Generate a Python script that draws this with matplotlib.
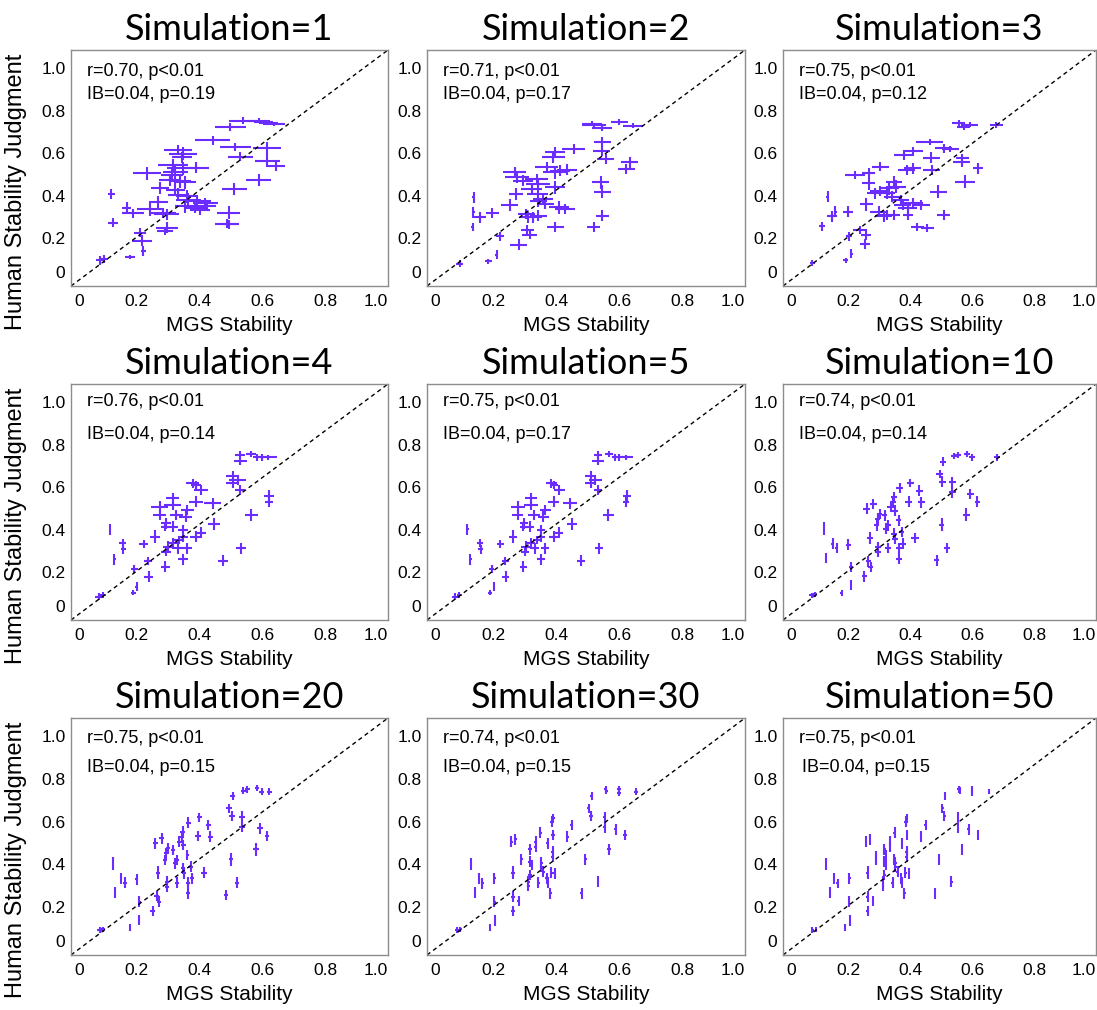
import matplotlib.pyplot as plt

plt.rcParams['font.family'] = ['Liberation Sans', 'DejaVu Sans']

sims = [1, 2, 3, 4, 5, 10, 20, 30, 50]
r_vals = ['0.70', '0.71', '0.75', '0.76', '0.75', '0.74', '0.75', '0.74', '0.75']
ib_vals = ['0.04', '0.04', '0.04', '0.04', '0.04', '0.04', '0.04', '0.04', '0.04']
ib_p = ['0.19', '0.17', '0.12', '0.14', '0.17', '0.14', '0.15', '0.15', '0.15']
ticks = [0, 0.2, 0.4, 0.6, 0.8, 1.0]
tick_labels = ['0', '0.2', '0.4', '0.6', '0.8', '1.0']

# rows: (MGS stability, human judgment, x error, y error)
P1 = [
    (0.082, 0.095, 0.012, 0.02), (0.095, 0.102, 0.012, 0.02), (0.178, 0.110, 0.015, 0.01),
    (0.220, 0.140, 0.008, 0.025), (0.215, 0.188, 0.032, 0.025), (0.210, 0.226, 0.020, 0.02),
    (0.124, 0.273, 0.015, 0.02), (0.119, 0.408, 0.012, 0.025), (0.167, 0.343, 0.015, 0.025),
    (0.188, 0.316, 0.035, 0.02), (0.242, 0.335, 0.042, 0.03), (0.268, 0.369, 0.030, 0.03),
    (0.284, 0.319, 0.042, 0.025), (0.295, 0.250, 0.035, 0.025), (0.290, 0.234, 0.025, 0.02),
    (0.231, 0.505, 0.045, 0.03), (0.274, 0.436, 0.028, 0.03), (0.322, 0.428, 0.030, 0.03),
    (0.332, 0.405, 0.032, 0.03), (0.359, 0.397, 0.035, 0.03), (0.364, 0.381, 0.040, 0.03),
    (0.391, 0.374, 0.045, 0.03), (0.418, 0.366, 0.040, 0.025), (0.354, 0.350, 0.032, 0.03),
    (0.386, 0.343, 0.035, 0.025), (0.402, 0.332, 0.032, 0.025), (0.423, 0.353, 0.030, 0.025),
    (0.295, 0.312, 0.040, 0.025), (0.306, 0.474, 0.035, 0.03), (0.338, 0.467, 0.035, 0.03),
    (0.354, 0.462, 0.035, 0.03), (0.322, 0.509, 0.040, 0.03), (0.311, 0.498, 0.035, 0.03),
    (0.314, 0.544, 0.048, 0.03), (0.348, 0.529, 0.052, 0.03), (0.389, 0.532, 0.040, 0.025),
    (0.332, 0.614, 0.045, 0.025), (0.348, 0.598, 0.045, 0.03), (0.343, 0.580, 0.032, 0.025),
    (0.441, 0.660, 0.055, 0.02), (0.498, 0.722, 0.050, 0.02), (0.538, 0.753, 0.045, 0.015),
    (0.588, 0.753, 0.035, 0.01), (0.604, 0.746, 0.030, 0.01), (0.620, 0.741, 0.030, 0.01),
    (0.636, 0.738, 0.035, 0.01), (0.514, 0.629, 0.050, 0.02), (0.530, 0.583, 0.040, 0.02),
    (0.615, 0.622, 0.045, 0.03), (0.615, 0.564, 0.040, 0.03), (0.642, 0.540, 0.030, 0.025),
    (0.588, 0.474, 0.040, 0.03), (0.510, 0.431, 0.040, 0.03), (0.492, 0.319, 0.038, 0.03),
    (0.487, 0.268, 0.038, 0.02), (0.492, 0.265, 0.030, 0.02),
]

P2 = [
    (0.094, 0.080, 0.011, 0.015), (0.184, 0.092, 0.011, 0.012), (0.211, 0.123, 0.005, 0.02),
    (0.223, 0.208, 0.013, 0.02), (0.139, 0.392, 0.005, 0.025), (0.137, 0.322, 0.005, 0.025),
    (0.135, 0.252, 0.005, 0.02), (0.158, 0.298, 0.019, 0.025), (0.198, 0.319, 0.021, 0.025),
    (0.253, 0.356, 0.027, 0.03), (0.281, 0.169, 0.027, 0.025), (0.309, 0.239, 0.021, 0.025),
    (0.316, 0.216, 0.023, 0.02), (0.273, 0.408, 0.023, 0.03), (0.268, 0.509, 0.037, 0.025),
    (0.276, 0.486, 0.037, 0.025), (0.295, 0.470, 0.032, 0.025), (0.322, 0.431, 0.032, 0.03),
    (0.338, 0.478, 0.037, 0.025), (0.343, 0.455, 0.037, 0.025), (0.341, 0.408, 0.032, 0.03),
    (0.305, 0.314, 0.027, 0.025), (0.311, 0.298, 0.027, 0.025), (0.327, 0.298, 0.027, 0.025),
    (0.343, 0.306, 0.027, 0.025), (0.343, 0.377, 0.027, 0.03), (0.359, 0.384, 0.032, 0.025),
    (0.365, 0.361, 0.027, 0.025), (0.370, 0.533, 0.037, 0.025), (0.395, 0.509, 0.037, 0.03),
    (0.413, 0.517, 0.032, 0.025), (0.434, 0.522, 0.032, 0.025), (0.397, 0.439, 0.032, 0.03),
    (0.408, 0.345, 0.032, 0.03), (0.429, 0.338, 0.032, 0.025), (0.397, 0.252, 0.027, 0.025),
    (0.391, 0.580, 0.037, 0.025), (0.397, 0.603, 0.032, 0.025), (0.456, 0.619, 0.037, 0.025),
    (0.520, 0.252, 0.021, 0.025), (0.547, 0.306, 0.021, 0.025), (0.547, 0.419, 0.027, 0.03),
    (0.542, 0.463, 0.027, 0.03), (0.545, 0.611, 0.027, 0.025), (0.547, 0.653, 0.027, 0.025),
    (0.558, 0.572, 0.027, 0.025), (0.623, 0.525, 0.027, 0.025), (0.634, 0.556, 0.027, 0.025),
    (0.515, 0.739, 0.032, 0.01), (0.520, 0.731, 0.037, 0.01), (0.547, 0.720, 0.032, 0.015),
    (0.601, 0.747, 0.027, 0.015), (0.644, 0.728, 0.032, 0.012),
]

P3 = [
    (0.085, 0.083, 0.008, 0.015), (0.192, 0.095, 0.008, 0.012), (0.211, 0.127, 0.004, 0.02),
    (0.203, 0.208, 0.011, 0.02), (0.255, 0.172, 0.016, 0.025), (0.238, 0.239, 0.021, 0.02),
    (0.258, 0.216, 0.016, 0.025), (0.115, 0.255, 0.009, 0.02), (0.134, 0.395, 0.004, 0.025),
    (0.148, 0.302, 0.016, 0.025), (0.159, 0.325, 0.005, 0.025), (0.200, 0.325, 0.016, 0.025),
    (0.258, 0.359, 0.021, 0.03), (0.222, 0.497, 0.032, 0.02), (0.266, 0.508, 0.021, 0.02),
    (0.266, 0.458, 0.021, 0.03), (0.288, 0.411, 0.027, 0.025), (0.304, 0.536, 0.027, 0.02),
    (0.304, 0.422, 0.032, 0.025), (0.332, 0.434, 0.032, 0.03), (0.324, 0.411, 0.027, 0.025),
    (0.348, 0.466, 0.027, 0.025), (0.354, 0.442, 0.032, 0.03), (0.343, 0.395, 0.027, 0.025),
    (0.299, 0.325, 0.027, 0.025), (0.315, 0.302, 0.027, 0.025), (0.324, 0.309, 0.027, 0.025),
    (0.348, 0.309, 0.021, 0.025), (0.370, 0.380, 0.027, 0.025), (0.376, 0.356, 0.027, 0.025),
    (0.392, 0.341, 0.032, 0.025), (0.409, 0.364, 0.032, 0.025), (0.436, 0.356, 0.027, 0.025),
    (0.392, 0.309, 0.016, 0.025), (0.423, 0.252, 0.021, 0.02), (0.456, 0.247, 0.021, 0.02),
    (0.508, 0.309, 0.021, 0.025), (0.491, 0.419, 0.027, 0.03), (0.470, 0.520, 0.027, 0.025),
    (0.389, 0.520, 0.027, 0.025), (0.409, 0.528, 0.027, 0.025), (0.381, 0.591, 0.032, 0.025),
    (0.409, 0.609, 0.032, 0.02), (0.468, 0.578, 0.027, 0.025), (0.463, 0.653, 0.043, 0.015),
    (0.508, 0.622, 0.027, 0.02), (0.530, 0.619, 0.027, 0.015), (0.566, 0.559, 0.027, 0.025),
    (0.568, 0.575, 0.021, 0.02), (0.577, 0.466, 0.032, 0.03), (0.618, 0.528, 0.016, 0.025),
    (0.557, 0.742, 0.021, 0.015), (0.574, 0.723, 0.021, 0.015), (0.592, 0.734, 0.027, 0.012),
    (0.678, 0.731, 0.021, 0.015),
]

P4 = [
    (0.078, 0.085, 0.013, 0.015), (0.091, 0.093, 0.010, 0.015), (0.189, 0.104, 0.008, 0.012),
    (0.199, 0.132, 0.004, 0.02), (0.192, 0.215, 0.011, 0.02), (0.237, 0.179, 0.013, 0.025),
    (0.234, 0.252, 0.013, 0.02), (0.128, 0.260, 0.005, 0.025), (0.115, 0.401, 0.004, 0.025),
    (0.155, 0.336, 0.011, 0.02), (0.157, 0.307, 0.008, 0.02), (0.221, 0.332, 0.013, 0.02),
    (0.259, 0.367, 0.016, 0.03), (0.291, 0.226, 0.013, 0.025), (0.293, 0.296, 0.016, 0.02),
    (0.298, 0.320, 0.016, 0.025), (0.314, 0.336, 0.016, 0.025), (0.330, 0.312, 0.016, 0.025),
    (0.346, 0.260, 0.016, 0.025), (0.360, 0.312, 0.016, 0.025), (0.348, 0.367, 0.016, 0.025),
    (0.335, 0.351, 0.016, 0.02), (0.348, 0.398, 0.016, 0.025), (0.388, 0.367, 0.019, 0.025),
    (0.404, 0.386, 0.016, 0.025), (0.293, 0.430, 0.016, 0.025), (0.291, 0.414, 0.013, 0.02),
    (0.314, 0.414, 0.016, 0.025), (0.272, 0.508, 0.027, 0.025), (0.272, 0.469, 0.021, 0.025),
    (0.314, 0.547, 0.021, 0.025), (0.314, 0.516, 0.027, 0.025), (0.325, 0.469, 0.021, 0.025),
    (0.356, 0.461, 0.021, 0.025), (0.361, 0.492, 0.021, 0.025), (0.388, 0.532, 0.021, 0.025),
    (0.378, 0.618, 0.021, 0.02), (0.388, 0.610, 0.016, 0.02), (0.404, 0.586, 0.021, 0.025),
    (0.441, 0.524, 0.027, 0.025), (0.446, 0.426, 0.019, 0.03), (0.475, 0.254, 0.016, 0.025),
    (0.532, 0.312, 0.016, 0.025), (0.564, 0.469, 0.021, 0.03), (0.505, 0.652, 0.021, 0.025),
    (0.505, 0.621, 0.021, 0.025), (0.521, 0.633, 0.027, 0.025), (0.528, 0.586, 0.016, 0.025),
    (0.622, 0.558, 0.016, 0.03), (0.620, 0.532, 0.013, 0.025), (0.529, 0.751, 0.016, 0.02),
    (0.529, 0.724, 0.021, 0.02), (0.564, 0.756, 0.016, 0.015), (0.583, 0.740, 0.013, 0.015),
    (0.597, 0.740, 0.021, 0.015), (0.618, 0.740, 0.027, 0.012),
]

P5 = [
    (0.080, 0.085, 0.010, 0.015), (0.093, 0.093, 0.008, 0.015), (0.190, 0.104, 0.006, 0.012),
    (0.203, 0.132, 0.004, 0.02), (0.195, 0.215, 0.009, 0.02), (0.240, 0.179, 0.011, 0.025),
    (0.238, 0.252, 0.011, 0.02), (0.128, 0.260, 0.004, 0.025), (0.118, 0.401, 0.004, 0.025),
    (0.158, 0.336, 0.009, 0.02), (0.160, 0.307, 0.007, 0.02), (0.222, 0.332, 0.011, 0.02),
    (0.262, 0.367, 0.013, 0.03), (0.296, 0.226, 0.011, 0.025), (0.300, 0.296, 0.013, 0.02),
    (0.303, 0.320, 0.013, 0.025), (0.320, 0.336, 0.013, 0.025), (0.334, 0.312, 0.013, 0.025),
    (0.352, 0.260, 0.013, 0.025), (0.365, 0.312, 0.013, 0.025), (0.352, 0.367, 0.013, 0.025),
    (0.340, 0.351, 0.013, 0.02), (0.352, 0.398, 0.013, 0.025), (0.392, 0.367, 0.016, 0.025),
    (0.408, 0.386, 0.013, 0.025), (0.298, 0.430, 0.013, 0.025), (0.296, 0.414, 0.011, 0.02),
    (0.318, 0.414, 0.013, 0.025), (0.280, 0.508, 0.022, 0.025), (0.278, 0.469, 0.018, 0.025),
    (0.320, 0.547, 0.018, 0.025), (0.320, 0.516, 0.022, 0.025), (0.330, 0.469, 0.018, 0.025),
    (0.360, 0.461, 0.018, 0.025), (0.366, 0.492, 0.018, 0.025), (0.392, 0.532, 0.018, 0.025),
    (0.385, 0.618, 0.018, 0.02), (0.394, 0.610, 0.013, 0.02), (0.410, 0.586, 0.018, 0.025),
    (0.445, 0.524, 0.022, 0.025), (0.450, 0.426, 0.016, 0.03), (0.480, 0.254, 0.013, 0.025),
    (0.536, 0.312, 0.013, 0.025), (0.566, 0.469, 0.018, 0.03), (0.510, 0.652, 0.018, 0.025),
    (0.510, 0.621, 0.018, 0.025), (0.525, 0.633, 0.022, 0.025), (0.533, 0.586, 0.013, 0.025),
    (0.625, 0.558, 0.013, 0.03), (0.622, 0.532, 0.011, 0.025), (0.533, 0.751, 0.013, 0.02),
    (0.533, 0.724, 0.018, 0.02), (0.568, 0.756, 0.013, 0.015), (0.588, 0.740, 0.011, 0.015),
    (0.600, 0.740, 0.018, 0.015), (0.622, 0.740, 0.022, 0.012),
]

P10 = [
    (0.082, 0.092, 0.008, 0.012), (0.093, 0.095, 0.006, 0.012), (0.180, 0.103, 0.005, 0.015),
    (0.209, 0.139, 0.004, 0.025), (0.209, 0.225, 0.006, 0.025), (0.252, 0.181, 0.008, 0.025),
    (0.265, 0.251, 0.008, 0.025), (0.273, 0.225, 0.008, 0.025), (0.130, 0.267, 0.003, 0.025),
    (0.123, 0.404, 0.003, 0.03), (0.150, 0.334, 0.005, 0.025), (0.163, 0.314, 0.006, 0.025),
    (0.200, 0.330, 0.008, 0.025), (0.270, 0.361, 0.009, 0.03), (0.297, 0.318, 0.009, 0.025),
    (0.297, 0.295, 0.009, 0.025), (0.329, 0.314, 0.009, 0.025), (0.364, 0.314, 0.009, 0.025),
    (0.364, 0.264, 0.009, 0.025), (0.377, 0.334, 0.009, 0.025), (0.352, 0.358, 0.009, 0.025),
    (0.348, 0.381, 0.009, 0.025), (0.373, 0.389, 0.009, 0.025), (0.416, 0.361, 0.012, 0.025),
    (0.323, 0.404, 0.009, 0.025), (0.329, 0.420, 0.009, 0.025), (0.292, 0.420, 0.009, 0.025),
    (0.295, 0.451, 0.009, 0.025), (0.302, 0.474, 0.009, 0.025), (0.318, 0.467, 0.009, 0.025),
    (0.363, 0.444, 0.009, 0.025), (0.260, 0.498, 0.011, 0.025), (0.281, 0.521, 0.011, 0.025),
    (0.337, 0.506, 0.011, 0.025), (0.345, 0.529, 0.011, 0.025), (0.350, 0.490, 0.011, 0.025),
    (0.348, 0.553, 0.011, 0.025), (0.366, 0.595, 0.011, 0.025), (0.401, 0.620, 0.011, 0.02),
    (0.396, 0.532, 0.011, 0.025), (0.436, 0.529, 0.011, 0.025), (0.430, 0.584, 0.011, 0.025),
    (0.486, 0.256, 0.008, 0.025), (0.520, 0.314, 0.009, 0.025), (0.502, 0.423, 0.009, 0.03),
    (0.581, 0.470, 0.011, 0.03), (0.594, 0.568, 0.011, 0.025), (0.617, 0.532, 0.009, 0.025),
    (0.536, 0.575, 0.011, 0.025), (0.536, 0.623, 0.011, 0.025), (0.504, 0.626, 0.011, 0.025),
    (0.496, 0.662, 0.011, 0.02), (0.507, 0.720, 0.009, 0.02), (0.541, 0.745, 0.009, 0.015),
    (0.554, 0.751, 0.009, 0.015), (0.584, 0.756, 0.009, 0.015), (0.599, 0.740, 0.009, 0.015),
    (0.680, 0.740, 0.009, 0.015),
]

P20 = [
    (0.082, 0.092, 0.008, 0.012), (0.093, 0.095, 0.006, 0.012), (0.178, 0.103, 0.004, 0.015),
    (0.207, 0.139, 0.003, 0.025), (0.207, 0.225, 0.005, 0.025), (0.250, 0.181, 0.007, 0.025),
    (0.263, 0.251, 0.007, 0.025), (0.271, 0.225, 0.007, 0.025), (0.130, 0.267, 0.003, 0.025),
    (0.123, 0.404, 0.003, 0.03), (0.149, 0.334, 0.004, 0.025), (0.162, 0.314, 0.005, 0.025),
    (0.199, 0.330, 0.006, 0.025), (0.268, 0.361, 0.007, 0.03), (0.295, 0.318, 0.007, 0.025),
    (0.295, 0.295, 0.007, 0.025), (0.327, 0.314, 0.007, 0.025), (0.362, 0.314, 0.007, 0.025),
    (0.362, 0.264, 0.007, 0.025), (0.375, 0.334, 0.007, 0.025), (0.350, 0.358, 0.007, 0.025),
    (0.346, 0.381, 0.007, 0.025), (0.371, 0.389, 0.007, 0.025), (0.414, 0.361, 0.010, 0.025),
    (0.321, 0.404, 0.006, 0.025), (0.327, 0.420, 0.006, 0.025), (0.290, 0.420, 0.006, 0.025),
    (0.293, 0.451, 0.006, 0.025), (0.300, 0.474, 0.006, 0.025), (0.316, 0.467, 0.006, 0.025),
    (0.361, 0.444, 0.006, 0.025), (0.258, 0.498, 0.008, 0.025), (0.279, 0.521, 0.008, 0.025),
    (0.335, 0.506, 0.008, 0.025), (0.343, 0.529, 0.008, 0.025), (0.348, 0.490, 0.008, 0.025),
    (0.346, 0.553, 0.008, 0.025), (0.364, 0.595, 0.008, 0.025), (0.399, 0.620, 0.009, 0.02),
    (0.394, 0.532, 0.009, 0.025), (0.434, 0.529, 0.009, 0.025), (0.428, 0.584, 0.009, 0.025),
    (0.484, 0.256, 0.006, 0.025), (0.518, 0.314, 0.007, 0.025), (0.500, 0.423, 0.007, 0.03),
    (0.579, 0.470, 0.009, 0.03), (0.592, 0.568, 0.009, 0.025), (0.615, 0.532, 0.007, 0.025),
    (0.534, 0.575, 0.009, 0.025), (0.534, 0.623, 0.009, 0.025), (0.502, 0.626, 0.009, 0.025),
    (0.494, 0.662, 0.009, 0.02), (0.505, 0.720, 0.007, 0.02), (0.539, 0.745, 0.007, 0.015),
    (0.552, 0.751, 0.007, 0.015), (0.582, 0.756, 0.007, 0.015), (0.597, 0.740, 0.007, 0.015),
    (0.622, 0.740, 0.007, 0.015),
]

P30 = [
    (0.085, 0.092, 0.006, 0.012), (0.096, 0.095, 0.005, 0.012), (0.191, 0.103, 0.003, 0.015),
    (0.207, 0.136, 0.003, 0.025), (0.204, 0.225, 0.004, 0.025), (0.263, 0.181, 0.005, 0.025),
    (0.263, 0.248, 0.005, 0.025), (0.281, 0.228, 0.005, 0.025), (0.141, 0.267, 0.003, 0.025),
    (0.130, 0.401, 0.003, 0.03), (0.155, 0.334, 0.004, 0.025), (0.166, 0.311, 0.004, 0.025),
    (0.204, 0.334, 0.005, 0.025), (0.263, 0.361, 0.005, 0.03), (0.312, 0.318, 0.005, 0.025),
    (0.312, 0.298, 0.005, 0.025), (0.344, 0.314, 0.005, 0.025), (0.374, 0.314, 0.005, 0.025),
    (0.382, 0.264, 0.005, 0.025), (0.371, 0.334, 0.005, 0.025), (0.360, 0.365, 0.005, 0.025),
    (0.353, 0.389, 0.005, 0.025), (0.385, 0.361, 0.005, 0.025), (0.396, 0.358, 0.005, 0.025),
    (0.317, 0.350, 0.005, 0.025), (0.317, 0.412, 0.005, 0.025), (0.322, 0.397, 0.005, 0.025),
    (0.290, 0.423, 0.005, 0.025), (0.353, 0.408, 0.005, 0.025), (0.389, 0.436, 0.005, 0.025),
    (0.258, 0.506, 0.005, 0.025), (0.271, 0.517, 0.005, 0.025), (0.317, 0.470, 0.005, 0.025),
    (0.335, 0.506, 0.005, 0.025), (0.335, 0.482, 0.005, 0.025), (0.374, 0.498, 0.005, 0.025),
    (0.389, 0.459, 0.005, 0.025), (0.390, 0.537, 0.005, 0.025), (0.350, 0.548, 0.005, 0.025),
    (0.386, 0.599, 0.005, 0.025), (0.390, 0.615, 0.005, 0.02), (0.436, 0.529, 0.005, 0.025),
    (0.450, 0.584, 0.005, 0.025), (0.481, 0.264, 0.004, 0.025), (0.533, 0.318, 0.004, 0.025),
    (0.493, 0.423, 0.005, 0.025), (0.568, 0.470, 0.005, 0.025), (0.589, 0.563, 0.005, 0.025),
    (0.619, 0.537, 0.005, 0.025), (0.554, 0.573, 0.005, 0.025), (0.554, 0.620, 0.005, 0.025),
    (0.511, 0.626, 0.005, 0.025), (0.504, 0.662, 0.005, 0.02), (0.513, 0.720, 0.005, 0.02),
    (0.557, 0.751, 0.005, 0.015), (0.560, 0.745, 0.005, 0.015), (0.600, 0.751, 0.005, 0.015),
    (0.600, 0.735, 0.005, 0.015), (0.654, 0.740, 0.005, 0.015),
]

P50 = [
    (0.085, 0.092, 0.005, 0.012), (0.096, 0.095, 0.004, 0.012), (0.191, 0.103, 0.002, 0.015),
    (0.207, 0.136, 0.002, 0.025), (0.204, 0.225, 0.003, 0.025), (0.263, 0.181, 0.004, 0.025),
    (0.263, 0.248, 0.004, 0.025), (0.281, 0.228, 0.004, 0.025), (0.141, 0.267, 0.002, 0.025),
    (0.130, 0.401, 0.002, 0.03), (0.155, 0.334, 0.003, 0.025), (0.166, 0.311, 0.004, 0.02),
    (0.204, 0.334, 0.004, 0.025), (0.263, 0.361, 0.004, 0.03), (0.312, 0.318, 0.004, 0.025),
    (0.312, 0.298, 0.004, 0.025), (0.344, 0.314, 0.004, 0.025), (0.374, 0.314, 0.004, 0.025),
    (0.382, 0.264, 0.004, 0.025), (0.371, 0.334, 0.004, 0.025), (0.360, 0.365, 0.004, 0.025),
    (0.353, 0.389, 0.004, 0.025), (0.385, 0.361, 0.004, 0.025), (0.396, 0.358, 0.004, 0.025),
    (0.317, 0.350, 0.004, 0.025), (0.317, 0.412, 0.004, 0.025), (0.322, 0.397, 0.004, 0.025),
    (0.290, 0.423, 0.004, 0.025), (0.290, 0.436, 0.004, 0.025), (0.353, 0.408, 0.004, 0.025),
    (0.389, 0.436, 0.004, 0.025), (0.349, 0.423, 0.004, 0.025), (0.258, 0.506, 0.004, 0.025),
    (0.271, 0.517, 0.004, 0.025), (0.317, 0.470, 0.004, 0.025), (0.322, 0.444, 0.004, 0.025),
    (0.335, 0.506, 0.004, 0.025), (0.335, 0.482, 0.004, 0.025), (0.374, 0.498, 0.004, 0.025),
    (0.389, 0.459, 0.004, 0.025), (0.390, 0.537, 0.004, 0.025), (0.350, 0.548, 0.004, 0.025),
    (0.386, 0.599, 0.004, 0.025), (0.390, 0.615, 0.004, 0.02), (0.436, 0.529, 0.004, 0.025),
    (0.450, 0.584, 0.004, 0.025), (0.481, 0.264, 0.004, 0.025), (0.533, 0.318, 0.004, 0.025),
    (0.493, 0.423, 0.004, 0.025), (0.568, 0.470, 0.004, 0.025), (0.589, 0.563, 0.004, 0.025),
    (0.619, 0.537, 0.004, 0.025), (0.554, 0.573, 0.004, 0.025), (0.554, 0.620, 0.004, 0.025),
    (0.511, 0.626, 0.004, 0.025), (0.504, 0.662, 0.004, 0.02), (0.513, 0.720, 0.004, 0.02),
    (0.557, 0.751, 0.004, 0.015), (0.560, 0.745, 0.004, 0.015), (0.600, 0.751, 0.004, 0.015),
    (0.600, 0.735, 0.004, 0.015), (0.654, 0.740, 0.004, 0.012),
]

panels = [P1, P2, P3, P4, P5, P10, P20, P30, P50]

W, H = 1097, 1010
cols = [(71, 388), (427, 745), (783, 1096)]
rows = [(50, 286), (384, 620), (718, 955)]
text_y = [(0.907, 0.81), (0.924, 0.784), (0.915, 0.792)]
purple = '#6A2CFF'

fig = plt.figure(figsize=(W / 100, H / 100), dpi=100)

for i, pts in enumerate(panels):
    r, c = divmod(i, 3)
    (x0, x1), (y0, y1) = cols[c], rows[r]
    ax = fig.add_axes([x0 / W, 1 - y1 / H, (x1 - x0) / W, (y1 - y0) / H])

    xs = [p[0] for p in pts]
    ys = [p[1] for p in pts]
    xe = [p[2] for p in pts]
    ye = [p[3] for p in pts]
    ax.errorbar(xs, ys, xerr=xe, yerr=ye, fmt='none', ecolor=purple,
                elinewidth=1.5, capsize=0)
    ax.plot([0, 1], [0, 1], transform=ax.transAxes, color='black',
            lw=1.0, ls=(0, (3, 2.5)))

    ax.set_xlim(-0.01, 1.0)
    ax.set_ylim(-0.025, 1.085)
    ax.set_xticks(ticks)
    ax.set_yticks(ticks)
    ax.set_xticklabels(tick_labels)
    ax.set_yticklabels(tick_labels)
    ax.tick_params(length=0, labelsize=12.5)
    ax.tick_params(axis='x', pad=6)
    ax.tick_params(axis='y', pad=4)
    xl = ax.get_xticklabels()
    xl[0].set_horizontalalignment('left')
    xl[-1].set_horizontalalignment('right')
    ax.get_yticklabels()[0].set_verticalalignment('bottom')
    for s in ax.spines.values():
        s.set_color('#8c8c8c')
        s.set_linewidth(1.0)

    ax.set_title(f'Simulation={sims[i]}', fontsize=26, family=['Lato', 'DejaVu Sans'], pad=7)
    ax.set_xlabel('MGS Stability', fontsize=15, labelpad=5)
    if c == 0:
        ax.set_ylabel('Human Stability Judgment', fontsize=17)
        ax.yaxis.set_label_coords(-0.14, 0.40)

    ty1, ty2 = text_y[r]
    ax.text(0.05, ty1, f'r={r_vals[i]}, p<0.01', transform=ax.transAxes,
            fontsize=13, va='center')
    ax.text(0.06 if i == 8 else 0.05, ty2, f'IB={ib_vals[i]}, p={ib_p[i]}',
            transform=ax.transAxes, fontsize=13, va='center')

fig.savefig('out.png', dpi=100)
